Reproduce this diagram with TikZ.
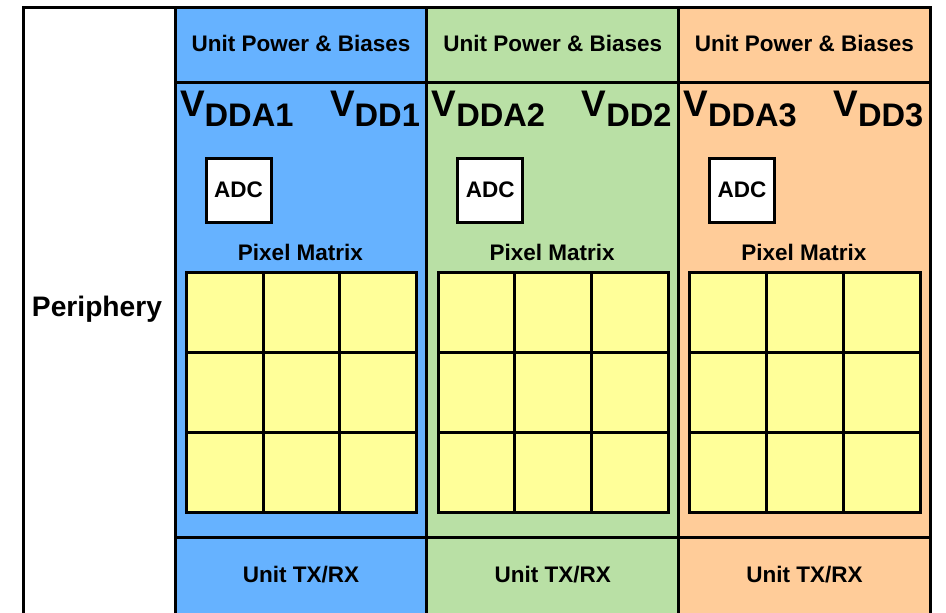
\documentclass[tikz,border=0pt]{standalone}
\usepackage{fontspec}
\setmainfont{Liberation Sans}
\usepackage{xcolor}
\usepackage{tikz}
\usetikzlibrary{positioning}
\definecolor{unitblue}{HTML}{66B2FF}
\definecolor{unitgreen}{HTML}{B9E0A5}
\definecolor{unitorange}{HTML}{FFCC99}
\definecolor{pixyellow}{HTML}{FFFF99}
\tikzset{every node/.append style={font=\bfseries\fontsize{22.5}{24}\selectfont, inner sep=0pt, outer sep=0pt}}
\tikzset{pixcell/.style={draw, fill=pixyellow, minimum width=76.7pt, minimum height=80.3pt, anchor=north west}}
\tikzset{adcbox/.style={draw, fill=white, minimum width=65pt, minimum height=64pt}}

\begin{document}
\begin{tikzpicture}[x=1pt, y=-1pt, line width=3pt]
    \useasboundingbox (0,0) rectangle (946,613);
    % periphery strip on the left
    \draw[fill=white] (23,7) rectangle (175,640);
    \node[anchor=base, font=\bfseries\fontsize{28.2}{30}\selectfont] (periph) at (97,316.7) {Periphery};
    % the three units
    \foreach \i/\col in {1/unitblue, 2/unitgreen, 3/unitorange} {
        \pgfmathsetmacro{\xo}{175+(\i-1)*251.7}
        \draw[fill=\col] (\xo,7) rectangle ++(251.7,633);
        \draw (\xo,82) -- ++(251.7,0);
        \draw (\xo,537.5) -- ++(251.7,0);
        \node[anchor=base] (power\i) at (\xo+126,51.7) {Unit Power \& Biases};
        \node[anchor=base west] (vdda\i) at (\xo+5,116.7)
            {\fontsize{37}{37}\selectfont V\raisebox{-10pt}{\fontsize{32.6}{33}\selectfont DDA\i}};
        \node[anchor=base west] (vdd\i) at (\xo+155,116.7)
            {\fontsize{37}{37}\selectfont V\raisebox{-10pt}{\fontsize{32.6}{33}\selectfont DD\i}};
        \node[adcbox] (adc\i) at (\xo+63.5,190) {};
        \node[anchor=base] (adctext\i) at (\xo+63.5,197.3) {ADC};
        \node[anchor=base] (pixlabel\i) at (\xo+125.5,260) {Pixel Matrix};
        % 3x3 pixel matrix
        \foreach \r in {0,1,2} {
            \foreach \c in {0,1,2} {
                \node[pixcell] (cell\i-\r-\c) at (\xo+11.5+\c*76.7,272+\r*80.3) {};
            }
        }
        \node[anchor=base] (txrx\i) at (\xo+126,582.3) {Unit TX/RX};
    }
\end{tikzpicture}
\end{document}
